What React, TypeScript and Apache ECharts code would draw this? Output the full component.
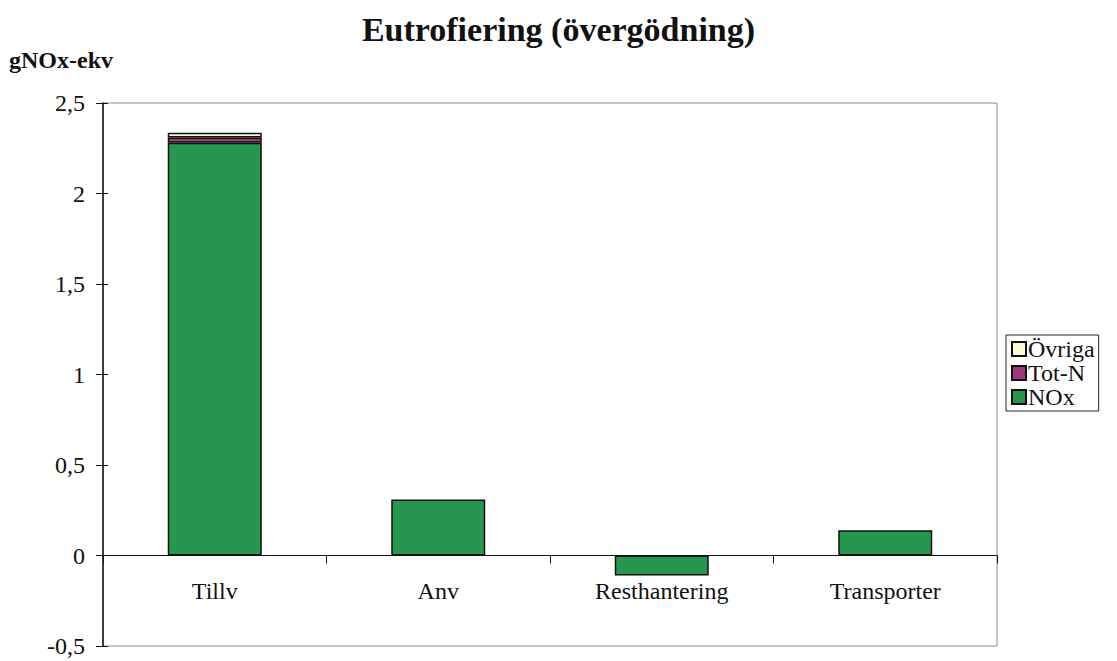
import React, { useEffect, useRef } from "react";
import * as echarts from "echarts";

// Categories along the x axis
const categories = ["Tillv", "Anv", "Resthantering", "Transporter"];

// Stacked contributions, gNOx-ekv
const noxValues = [2.28, 0.31, -0.11, 0.14];
const totNValues = [0.03, null, null, null];
const ovrigaValues = [0.025, null, null, null];

// Y axis range
const yMin = -0.5;
const yMax = 2.5;
const yStep = 0.5;

const FONT = "'Liberation Serif', 'Times New Roman', serif";

// Plot area layout
const GRID_TOP = 103;
const GRID_BOTTOM = 15;
const CHART_H = 661;
const GRID_H = CHART_H - GRID_TOP - GRID_BOTTOM;

// Shift the category axis from the bottom edge up to the zero line
const zeroOffset = -(GRID_H * (0 - yMin)) / (yMax - yMin);

const fmt = (v: number) => String(v).replace(".", ",");

export default function App() {
  const ref = useRef<HTMLDivElement>(null);

  useEffect(() => {
    if (!ref.current) return;
    const chart = echarts.init(ref.current, undefined, { renderer: "svg" });
    const barStyle = (color: string) => ({
      color,
      borderColor: "#111",
      borderWidth: 1.5,
    });
    chart.setOption({
      animation: false,
      backgroundColor: "#fff",
      title: {
        text: "Eutrofiering (övergödning)",
        left: "center",
        top: 7,
        textStyle: {
          fontFamily: FONT,
          fontWeight: "bold",
          fontSize: 34,
          color: "#111",
        },
      },
      graphic: [
        {
          type: "text",
          left: 9,
          top: 48,
          style: {
            text: "gNOx-ekv",
            font: `bold 24px ${FONT}`,
            fill: "#111",
          },
        },
      ],
      legend: {
        orient: "vertical",
        left: 1006,
        top: 335,
        data: ["Övriga", "Tot-N", "NOx"],
        itemWidth: 14,
        itemHeight: 14,
        itemGap: 0,
        padding: [2, 4, 2, 5],
        borderColor: "#222",
        borderWidth: 1,
        textStyle: { fontFamily: FONT, fontSize: 24, color: "#111", padding: [0, 0, 0, -3] },
        icon: "rect",
      },
      grid: {
        left: 103,
        top: GRID_TOP,
        right: 120,
        bottom: GRID_BOTTOM,
        show: true,
        borderColor: "#8a8a96",
        borderWidth: 1,
        containLabel: false,
        outerBoundsMode: "none",
      },
      xAxis: {
        type: "category",
        data: categories,
        position: "bottom",
        offset: zeroOffset,
        axisLine: { onZero: false, lineStyle: { color: "#111", width: 1 } },
        axisTick: { show: true, length: 8, lineStyle: { color: "#111" } },
        axisLabel: { fontFamily: FONT, fontSize: 24, color: "#111", margin: 23 },
      },
      yAxis: [
        {
          type: "value",
          min: yMin,
          max: yMax,
          interval: yStep,
          axisLine: { show: true, onZero: false, lineStyle: { color: "#111", width: 1.5 } },
          axisTick: { show: true, length: 7, lineStyle: { color: "#111" } },
          splitLine: { show: false },
          axisLabel: {
            fontFamily: FONT,
            fontSize: 24,
            color: "#111",
            margin: 18,
            formatter: fmt,
          },
        },
        {
          type: "value",
          position: "left",
          min: yMin,
          max: yMax,
          interval: yStep,
          axisLine: { show: false },
          axisTick: { show: true, inside: true, length: 5, lineStyle: { color: "#111" } },
          splitLine: { show: false },
          axisLabel: { show: false },
        },
      ],
      series: [
        {
          name: "NOx",
          type: "bar",
          stack: "total",
          data: noxValues,
          barWidth: 94,
          itemStyle: barStyle("#279750"),
        },
        {
          name: "Tot-N",
          type: "bar",
          stack: "total",
          data: totNValues,
          barWidth: 94,
          itemStyle: barStyle("#9b3a78"),
        },
        {
          name: "Övriga",
          type: "bar",
          stack: "total",
          data: ovrigaValues,
          barWidth: 94,
          itemStyle: barStyle("#fbf8d8"),
        },
      ],
    });
    return () => chart.dispose();
  }, []);

  return (
    <div
      ref={ref}
      style={{ position: "fixed", left: 0, top: 0, width: 1117, height: CHART_H, background: "#fff" }}
    />
  );
}
